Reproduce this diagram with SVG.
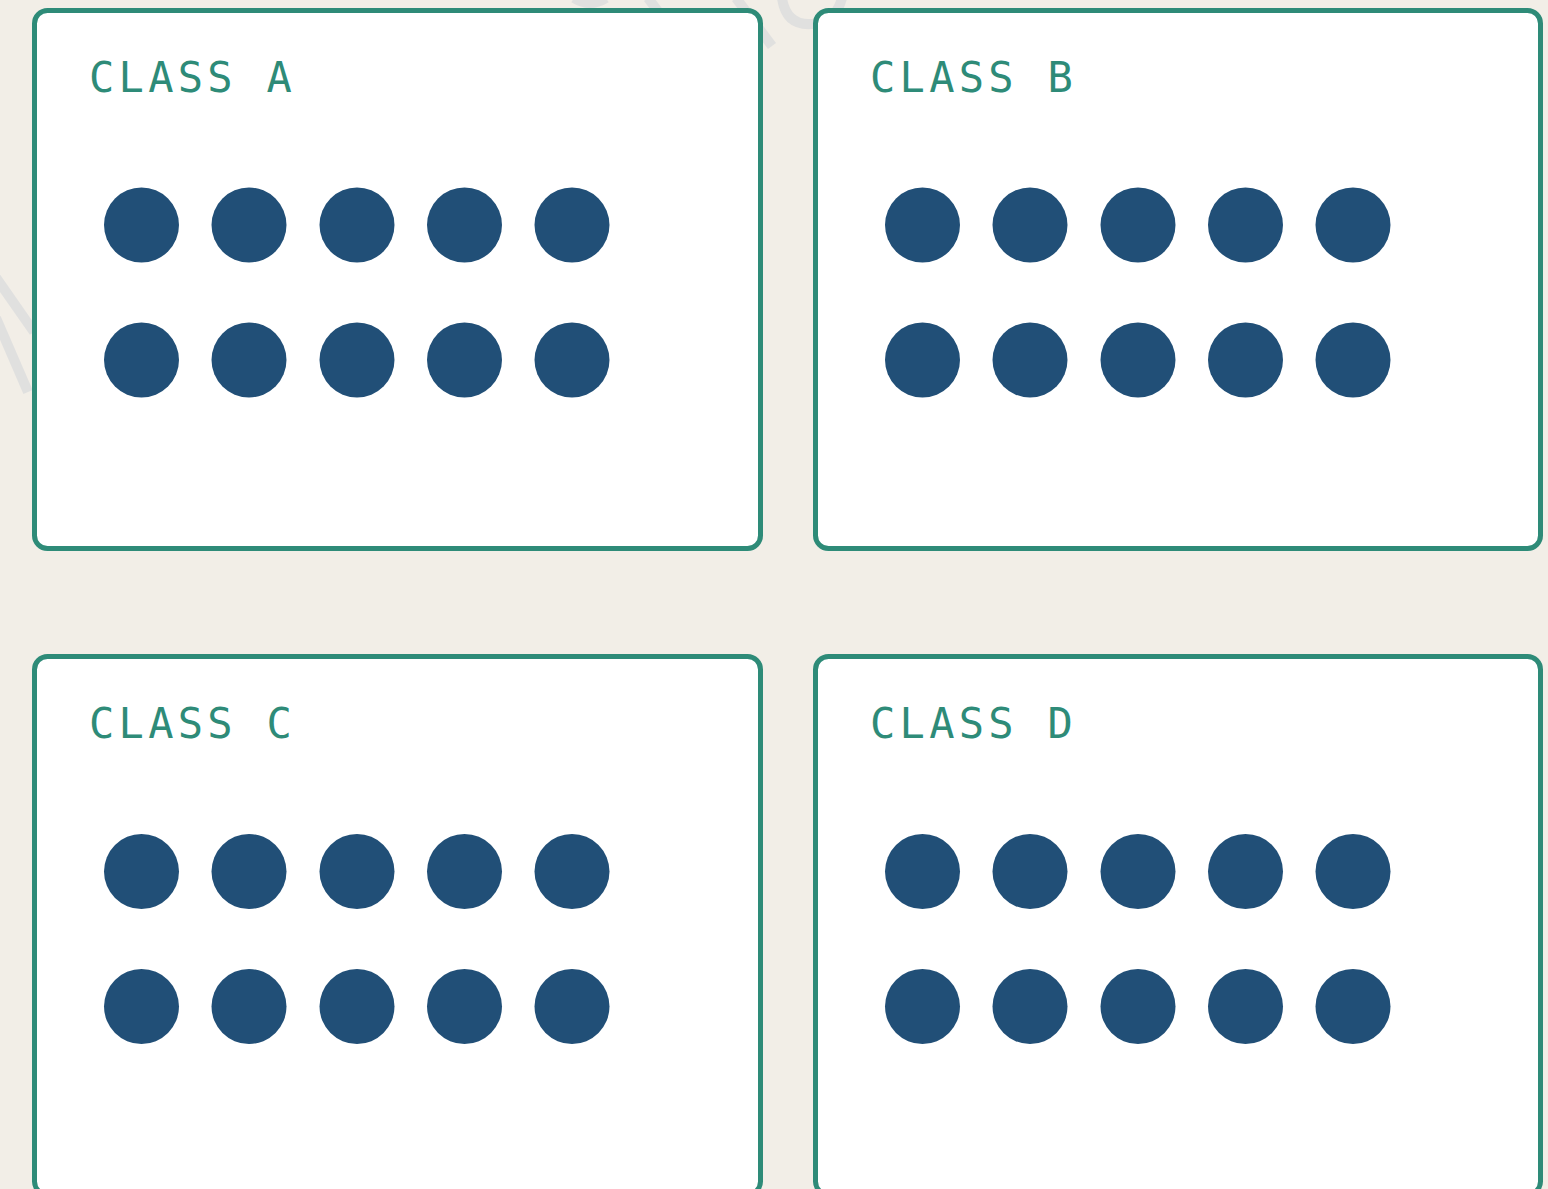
<svg xmlns="http://www.w3.org/2000/svg" width="1548" height="1189" viewBox="0 0 1548 1189">
  <style>
    .box { fill: #ffffff; stroke: #2e8b78; stroke-width: 5; }
    .dot { fill: #214f77; }
    .title { font-family: "DejaVu Sans Mono", "Liberation Mono", monospace; font-size: 42px; letter-spacing: 4.3px; fill: #2e8b78; }
    .wm { fill: none; stroke: #e0e0df; stroke-width: 10; stroke-linecap: butt; }
  </style>
  <defs>
    <g id="dots">
      <circle class="dot" cx="141.5" cy="225" r="37.5"/>
      <circle class="dot" cx="249" cy="225" r="37.5"/>
      <circle class="dot" cx="357" cy="225" r="37.5"/>
      <circle class="dot" cx="464.5" cy="225" r="37.5"/>
      <circle class="dot" cx="572" cy="225" r="37.5"/>
      <circle class="dot" cx="141.5" cy="360" r="37.5"/>
      <circle class="dot" cx="249" cy="360" r="37.5"/>
      <circle class="dot" cx="357" cy="360" r="37.5"/>
      <circle class="dot" cx="464.5" cy="360" r="37.5"/>
      <circle class="dot" cx="572" cy="360" r="37.5"/>
    </g>
  </defs>
  <rect x="0" y="0" width="1548" height="1189" fill="#f2eee7"/>
  <g id="watermark">
    <path class="wm" d="M -5 276 L 34 332"/>
    <path class="wm" d="M -4 318 L 28 392"/>
    <path class="wm" d="M 574 -2 Q 590 8 606 -2"/>
    <path class="wm" d="M 648 -2 L 660 14"/>
    <path class="wm" d="M 736 -2 L 772 46"/>
    <path class="wm" d="M 782 -2 Q 786 26 812 24 Q 836 22 842 -2"/>
  </g>
  <g id="classA">
    <rect class="box" x="34.5" y="10.5" width="726" height="538" rx="13"/>
    <text class="title" x="89" y="92">CLASS A</text>
    <use href="#dots"/>
  </g>
  <g id="classB">
    <rect class="box" x="815.5" y="10.5" width="725" height="538" rx="13"/>
    <text class="title" x="870" y="92">CLASS B</text>
    <use href="#dots" transform="translate(781 0)"/>
  </g>
  <g id="classC">
    <rect class="box" x="34.5" y="656.5" width="726" height="538" rx="13"/>
    <text class="title" x="89" y="738">CLASS C</text>
    <use href="#dots" transform="translate(0 646.5)"/>
  </g>
  <g id="classD">
    <rect class="box" x="815.5" y="656.5" width="725" height="538" rx="13"/>
    <text class="title" x="870" y="738">CLASS D</text>
    <use href="#dots" transform="translate(781 646.5)"/>
  </g>
  <g id="connectors"></g>
</svg>
